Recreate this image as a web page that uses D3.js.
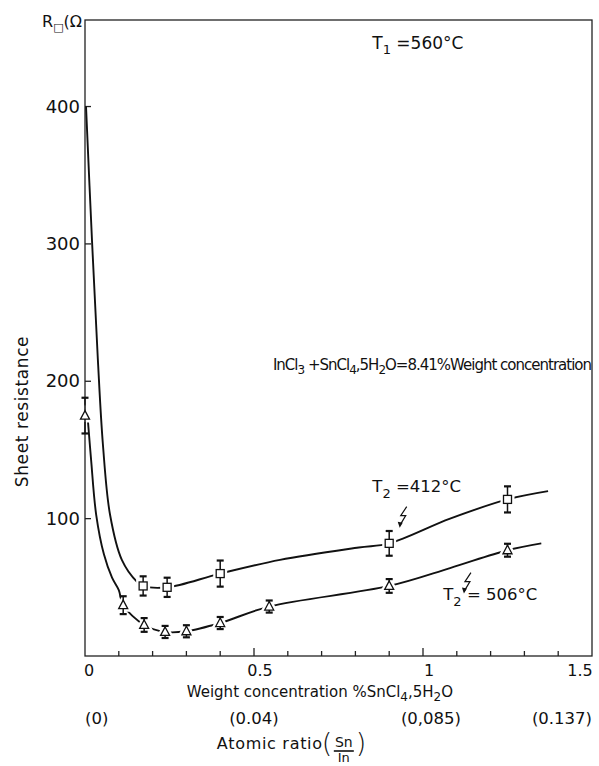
<!DOCTYPE html>
<html>
<head>
<meta charset="utf-8">
<script src="https://cdn.jsdelivr.net/npm/d3@7"></script>
<style>
  body { margin: 0; background: #fff; }
  svg text { font-family: "DejaVu Sans", sans-serif; fill: #111; }
</style>
</head>
<body>
<div id="chart"></div>
<script>
// T2 = 412°C, squares
const sqX = [0.172, 0.243, 0.40, 0.90, 1.25];
const sqY = [51, 50, 60, 82, 114];
const sqErr = [7, 7, 9.5, 9, 9.5];
// curve drawn through the squares
const upCurveX = [0.003, 0.021, 0.038, 0.053, 0.074, 0.109, 0.154, 0.172, 0.243, 0.40, 0.577, 0.81, 0.90, 1.08, 1.25, 1.37];
const upCurveY = [400, 301, 216, 154, 103, 70, 54, 51, 50, 60, 70, 79, 82, 100, 114, 120];

// T2 = 506°C, triangles
const trX = [0, 0.113, 0.175, 0.237, 0.30, 0.40, 0.545, 0.90, 1.25];
const trY = [175, 37, 22.6, 17.5, 18, 24, 36, 51, 77];
const trErr = [13, 6.5, 5, 4.4, 4.4, 4.4, 4.4, 5, 4.7];
const loCurveX = [0.009, 0.018, 0.033, 0.056, 0.080, 0.1, 0.113, 0.175, 0.237, 0.30, 0.40, 0.545, 0.90, 1.08, 1.25, 1.35];
const loCurveY = [170, 143, 103, 74, 57, 48, 37, 22.6, 17.5, 18, 24, 36, 51, 64, 77, 82];

const yTicks = [100, 200, 300, 400];
const xMinor = d3.range(1, 15).map(i => i / 10);
const xLabels = [{ v: 0, t: "0" }, { v: 0.5, t: "0.5" }, { v: 1, t: "1" }, { v: 1.5, t: "1.5" }];
const atomicLabels = ["(0)", "(0.04)", "(0,085)", "(0.137)"];

const W = 599, H = 766;
const margin = { top: 20, right: 7, bottom: 110, left: 85 },
      width = W - margin.left - margin.right,
      height = H - margin.top - margin.bottom;

const svg = d3.select("#chart").append("svg")
  .attr("width", W).attr("height", H);
const g = svg.append("g").attr("transform", `translate(${margin.left},${margin.top})`);

const x = d3.scaleLinear().domain([0, 1.5]).range([0, width]);
const y = d3.scaleLinear().domain([0, 463]).range([height, 0]);

// frame
g.append("rect").attr("width", width).attr("height", height)
  .attr("fill", "none").attr("stroke", "#222").attr("stroke-width", 1.3);

// y ticks (inside)
g.selectAll(".yt").data(yTicks).enter().append("line")
  .attr("x1", 0).attr("x2", 6).attr("y1", d => y(d)).attr("y2", d => y(d))
  .attr("stroke", "#222").attr("stroke-width", 1.3);
g.selectAll(".yl").data(yTicks).enter().append("text")
  .attr("x", -5).attr("y", d => y(d) + 6).attr("text-anchor", "end")
  .style("font-size", "18px").text(d => d);

// x ticks (inside)
g.selectAll(".xt").data(xMinor).enter().append("line")
  .attr("x1", d => x(d)).attr("x2", d => x(d))
  .attr("y1", height).attr("y2", d => height - (Math.abs(d * 2 - Math.round(d * 2)) < 1e-6 ? 8 : 5))
  .attr("stroke", "#222").attr("stroke-width", 1.3);
g.selectAll(".xl").data(xLabels).enter().append("text")
  .attr("x", d => x(d.v) + (d.v === 0 ? 4 : d.v === 1.5 ? -12 : 6))
  .attr("y", height + 20).attr("text-anchor", "middle")
  .style("font-size", "16px").text(d => d.t);

g.selectAll(".al").data(xLabels).enter().append("text")
  .attr("x", d => x(d.v) + (d.v === 1 ? 8 : 0))
  .attr("y", height + 68)
  .attr("text-anchor", (d, i) => i === 0 ? "start" : i === 3 ? "end" : "middle")
  .style("font-size", "16.5px").text((d, i) => atomicLabels[i]);

// axis titles
const xt = g.append("text").attr("x", x(0.695)).attr("y", height + 41)
  .attr("text-anchor", "middle").style("font-size", "15px");
xt.append("tspan").text("Weight concentration %SnCl");
xt.append("tspan").attr("dy", 4).style("font-size", "12px").text("4");
xt.append("tspan").attr("dy", -4).text(",5H");
xt.append("tspan").attr("dy", 4).style("font-size", "12px").text("2");
xt.append("tspan").attr("dy", -4).text("O");

const at = g.append("g").attr("transform", `translate(${x(0.39)},${height + 93})`);
at.append("text").attr("x", 0).attr("y", 0)
  .style("font-size", "16px").style("letter-spacing", "0.7px").text("Atomic ratio");
at.append("text").attr("x", 105).attr("y", 3).style("font-size", "27px")
  .style("font-weight", "200").text("(");
at.append("text").attr("x", 127).attr("y", -2).attr("text-anchor", "middle")
  .style("font-size", "14px").text("Sn");
at.append("line").attr("x1", 117).attr("x2", 137).attr("y1", 2).attr("y2", 2)
  .attr("stroke", "#111").attr("stroke-width", 1.6);
at.append("text").attr("x", 127).attr("y", 13).attr("text-anchor", "middle")
  .style("font-size", "13px").text("In");
at.append("text").attr("x", 139).attr("y", 3).style("font-size", "27px")
  .style("font-weight", "200").text(")");

svg.append("text").attr("transform", `translate(28,${margin.top + y(178)}) rotate(-90)`)
  .attr("text-anchor", "middle").style("font-size", "17px")
  .style("letter-spacing", "0.6px").text("Sheet  resistance");

const rl = svg.append("text").attr("x", 42).attr("y", 27).style("font-size", "16px");
rl.append("tspan").text("R");
rl.append("tspan").attr("dy", 4).style("font-size", "11px").text("□");
rl.append("tspan").attr("dy", -4).text("(Ω");

const t1 = g.append("text").attr("x", x(0.85)).attr("y", 29).style("font-size", "17px");
t1.append("tspan").text("T");
t1.append("tspan").attr("dy", 5).style("font-size", "13px").text("1");
t1.append("tspan").attr("dy", -5).text(" =560°C");

const note = g.append("text").attr("x", x(1.5) - 1).attr("y", y(208)).attr("text-anchor", "end")
  .style("font-size", "15px").style("letter-spacing", "-1px");
note.append("tspan").text("InCl");
note.append("tspan").attr("dy", 4).style("font-size", "12px").text("3");
note.append("tspan").attr("dy", -4).text(" +SnCl");
note.append("tspan").attr("dy", 4).style("font-size", "12px").text("4");
note.append("tspan").attr("dy", -4).text(",5H");
note.append("tspan").attr("dy", 4).style("font-size", "12px").text("2");
note.append("tspan").attr("dy", -4).text("O=8.41%Weight  concentration");

// curves
const line = d3.line().x(d => x(d[0])).y(d => y(d[1])).curve(d3.curveCatmullRom.alpha(0.5));
g.append("path").datum(d3.zip(upCurveX, upCurveY)).attr("d", line)
  .attr("fill", "none").attr("stroke", "#111").attr("stroke-width", 1.9);
g.append("path").datum(d3.zip(loCurveX, loCurveY)).attr("d", line)
  .attr("fill", "none").attr("stroke", "#111").attr("stroke-width", 1.9);

const sqD = d3.zip(sqX, sqY), trD = d3.zip(trX, trY);
const triPath = "M0,-5L4.5,3.5L-4.5,3.5Z";

// white halo so the curves break at each marker
g.selectAll(".sqh").data(sqD).enter().append("rect")
  .attr("x", d => x(d[0]) - 4).attr("y", d => y(d[1]) - 4)
  .attr("width", 8).attr("height", 8)
  .attr("fill", "#fff").attr("stroke", "#fff").attr("stroke-width", 6);
g.selectAll(".trh").data(trD).enter().append("path")
  .attr("transform", d => `translate(${x(d[0])},${y(d[1])})`)
  .attr("d", triPath).attr("fill", "#fff").attr("stroke", "#fff").attr("stroke-width", 6);

// error bars
function errBars(xs, ys, es) {
  const eb = g.append("g").attr("stroke", "#111");
  xs.forEach((v, i) => {
    const cx = x(v), y0 = y(ys[i] - es[i]), y1 = y(ys[i] + es[i]);
    eb.append("line").attr("x1", cx).attr("x2", cx).attr("y1", y0).attr("y2", y1).attr("stroke-width", 1.5);
    eb.append("line").attr("x1", cx - 3.5).attr("x2", cx + 3.5).attr("y1", y0).attr("y2", y0).attr("stroke-width", 2.2);
    eb.append("line").attr("x1", cx - 3.5).attr("x2", cx + 3.5).attr("y1", y1).attr("y2", y1).attr("stroke-width", 2.2);
  });
}
errBars(sqX, sqY, sqErr);
errBars(trX, trY, trErr);

g.selectAll(".sq").data(sqD).enter().append("rect")
  .attr("x", d => x(d[0]) - 4).attr("y", d => y(d[1]) - 4)
  .attr("width", 8).attr("height", 8)
  .attr("fill", "#fff").attr("stroke", "#111").attr("stroke-width", 1.3);
g.selectAll(".tr").data(trD).enter().append("path")
  .attr("transform", d => `translate(${x(d[0])},${y(d[1])})`)
  .attr("d", triPath)
  .attr("fill", "#fff").attr("stroke", "#111").attr("stroke-width", 1.3);

// labels with lightning arrows
function bolt(px, py) {
  g.append("path").attr("transform", `translate(${px},${py})`)
    .attr("d", "M4,-12L-2,-3L3,-3L-3,7")
    .attr("fill", "none").attr("stroke", "#111").attr("stroke-width", 1.2);
  g.append("path").attr("transform", `translate(${px},${py})`)
    .attr("d", "M-5,3L-3,9L0,4Z").attr("fill", "#111");
}
function tLabel(tx, ty, val) {
  const t = g.append("text").attr("x", tx).attr("y", ty).style("font-size", "16.5px");
  t.append("tspan").text("T");
  t.append("tspan").attr("dy", 6).style("font-size", "13px").text("2");
  t.append("tspan").attr("dy", -6).text(" =" + val + "°C");
}
tLabel(x(0.85), y(119.5), "412");
bolt(x(0.94), y(100));
tLabel(x(1.06), y(41), " 506");
bolt(x(1.13), y(52));
</script>
</body>
</html>
